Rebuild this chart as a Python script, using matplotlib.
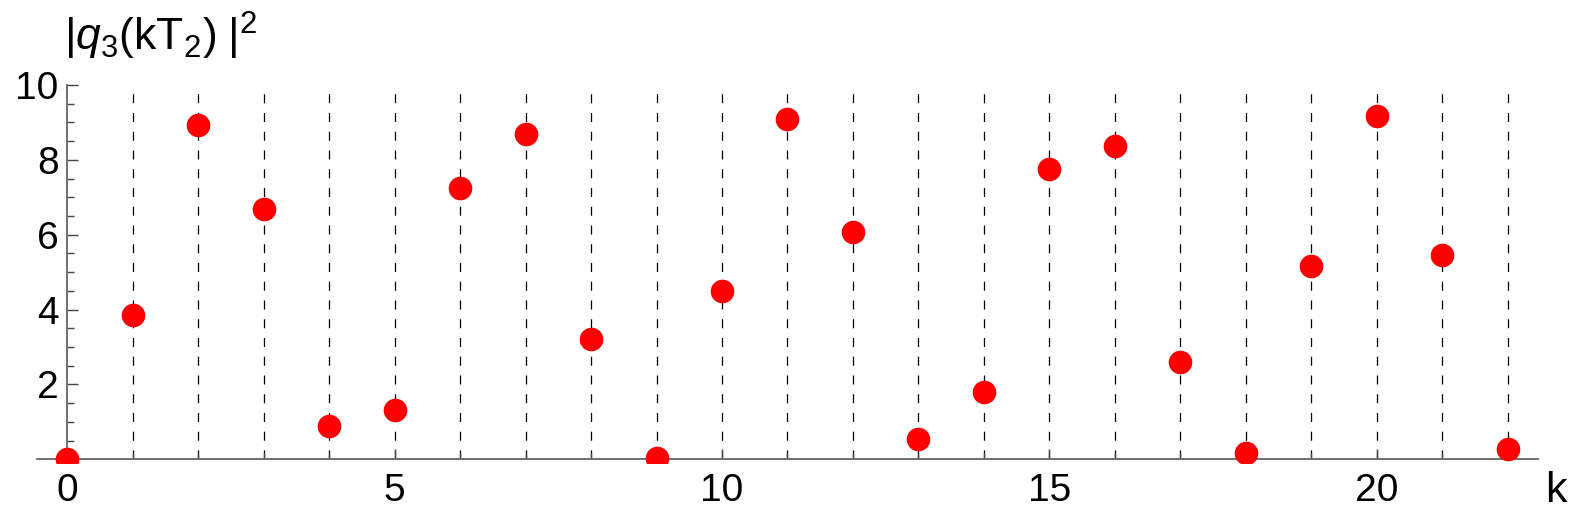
import matplotlib.pyplot as plt
import numpy as np
from matplotlib.ticker import MultipleLocator

plt.rcParams['font.family'] = ['Liberation Sans', 'DejaVu Sans']
plt.rcParams['mathtext.fontset'] = 'custom'
plt.rcParams['mathtext.rm'] = 'Liberation Sans'
plt.rcParams['mathtext.it'] = 'Liberation Sans:italic'
plt.rcParams['lines.scale_dashes'] = False

k = np.arange(0, 23)
q3_sq = [0.0, 3.85, 8.94, 6.68, 0.88, 1.31, 7.24, 8.69, 3.22, 0.03, 4.50, 9.10,
         6.08, 0.53, 1.80, 7.75, 8.36, 2.61, 0.17, 5.16, 9.17, 5.45, 0.27]
grid_k = np.arange(1, 23)

W, H = 1577, 514
fig = plt.figure(figsize=(W / 100, H / 100), dpi=100)
ax = fig.add_axes([0.0235, 0.0992, 0.9518, 0.7354])

ax.vlines(grid_k, 0, 10, colors='black', linewidth=0.9, linestyles=(0, (6.5, 7)), zorder=1)
ax.plot(k, q3_sq, 'o', color='#ff0000', markersize=17, markeredgewidth=0, zorder=3)

ax.set_xlim(-0.458, 22.46)
ax.set_ylim(-0.1, 10)

for s in ['top', 'right']:
    ax.spines[s].set_visible(False)
ax.spines['left'].set_position(('data', 0))
ax.spines['bottom'].set_position(('data', 0))
ax.spines['left'].set_bounds(0, 10)
for s in ['left', 'bottom']:
    ax.spines[s].set_color('#666666')
    ax.spines[s].set_linewidth(1.3)

ax.set_xticks([0, 5, 10, 15, 20])
ax.xaxis.set_minor_locator(MultipleLocator(1))
ax.set_yticks([2, 4, 6, 8, 10])
ax.yaxis.set_minor_locator(MultipleLocator(0.5))
ax.tick_params(which='both', direction='in', colors='#444444', labelcolor='black', labelsize=28)
ax.tick_params(axis='y', which='major', length=8, width=1, pad=6)
ax.tick_params(axis='y', which='minor', length=5, width=1)
ax.tick_params(axis='x', which='major', length=7, width=1, pad=10)
ax.tick_params(axis='x', which='minor', length=4, width=1)

fig.text(64 / W, 1 - 51 / H, r'$|q_3(\mathrm{kT}_2)\;|^2$', fontsize=32, va='baseline', ha='left')
fig.text(1545 / W, 1 - 502 / H, 'k', fontsize=31, va='baseline', ha='left')

fig.savefig('out.png', dpi=100)
